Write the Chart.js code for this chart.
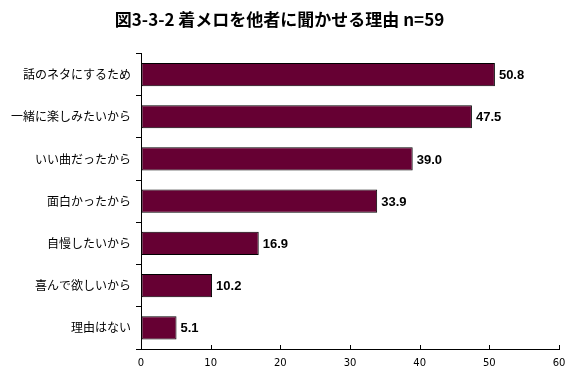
<!DOCTYPE html>
<html>
<head>
<meta charset="utf-8">
<script src="https://cdn.jsdelivr.net/npm/chart.js@4.4.0/dist/chart.umd.min.js"></script>
<style>
  html, body { margin: 0; padding: 0; background: #fff; }
  #wrap { width: 580px; height: 377px; }
</style>
</head>
<body>
<div id="wrap"><canvas id="chart" width="580" height="377"></canvas></div>
<script>
// Chart data
const titleText = '図3-3-2 着メロを他者に聞かせる理由 n=59';
const categories = ['話のネタにするため', '一緒に楽しみたいから', 'いい曲だったから', '面白かったから', '自慢したいから', '喜んで欲しいから', '理由はない'];
const values = [50.8, 47.5, 39.0, 33.9, 16.9, 10.2, 5.1];
const xTicks = [0, 10, 20, 30, 40, 50, 60];

const jpFont = '"Noto Sans CJK JP", "DejaVu Sans", sans-serif';

/**
 * Value labels to the right of each bar
 */
const valueLabels = {
    id: 'valueLabels',
    afterDatasetsDraw(chart) {
        const ctx = chart.ctx;
        const meta = chart.getDatasetMeta(0);
        ctx.save();
        ctx.fillStyle = '#000';
        ctx.font = 'bold 13px "Liberation Sans", Arial, sans-serif';
        ctx.textBaseline = 'middle';
        ctx.textAlign = 'left';
        meta.data.forEach((bar, i) => {
            ctx.fillText(values[i].toFixed(1), bar.x + 4, bar.y + 1);
        });
        ctx.restore();
    }
};

/**
 * Small tick marks on the x axis pointing into the plot
 */
const innerTicks = {
    id: 'innerTicks',
    afterDraw(chart) {
        const ctx = chart.ctx;
        const xs = chart.scales.x;
        const bottom = chart.chartArea.bottom;
        ctx.save();
        ctx.strokeStyle = '#000';
        ctx.lineWidth = 1;
        xTicks.forEach(v => {
            const px = Math.round(xs.getPixelForValue(v)) + 0.5;
            ctx.beginPath();
            ctx.moveTo(px, bottom);
            ctx.lineTo(px, bottom - 4);
            ctx.stroke();
        });
        ctx.restore();
    }
};

new Chart(document.getElementById('chart'), {
    type: 'bar',
    data: {
        labels: categories,
        datasets: [{
            data: values,
            backgroundColor: '#660033',
            borderColor: '#000000',
            borderWidth: 1,
            borderSkipped: false,
            barPercentage: 0.55,
            categoryPercentage: 1.0
        }]
    },
    options: {
        indexAxis: 'y',
        responsive: false,
        animation: false,
        layout: { padding: { top: 0, right: 21, bottom: 0, left: 0 } },
        plugins: {
            legend: { display: false },
            tooltip: { enabled: false },
            title: {
                display: true,
                text: titleText,
                color: '#000',
                font: { family: jpFont, size: 17, weight: 'bold' },
                padding: { top: 9, bottom: 24 }
            }
        },
        scales: {
            x: {
                min: 0,
                max: 60,
                afterBuildTicks(scale) {
                    scale.ticks = xTicks.map(v => ({ value: v }));
                },
                grid: { display: true, drawOnChartArea: false, tickLength: 0 },
                border: { display: true, color: '#000', width: 1 },
                ticks: {
                    color: '#000',
                    padding: 8,
                    font: { family: '"DejaVu Sans", sans-serif', size: 10 }
                }
            },
            y: {
                afterFit(scale) { scale.width = 141; },
                grid: { display: true, drawOnChartArea: false, offset: true, tickLength: 5, color: '#000' },
                border: { display: true, color: '#000', width: 1 },
                ticks: {
                    color: '#000',
                    padding: 5,
                    font: { family: jpFont, size: 12 }
                }
            }
        }
    },
    plugins: [valueLabels, innerTicks]
});
</script>
</body>
</html>
